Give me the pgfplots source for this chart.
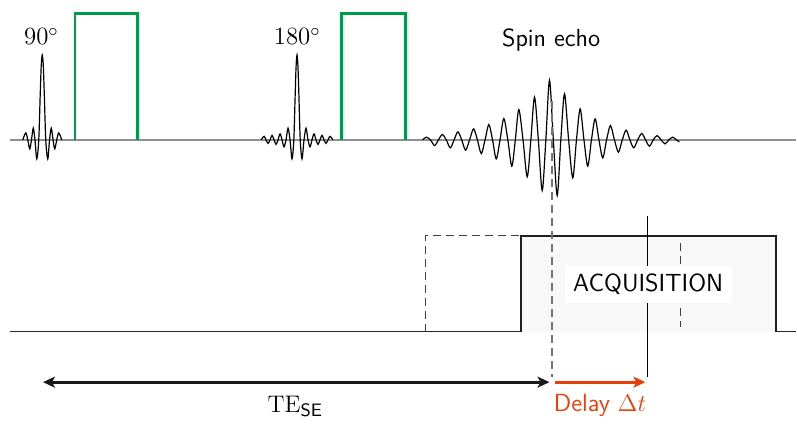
\documentclass[border=0pt]{standalone}
\usepackage{pgfplots}
\pgfplotsset{compat=1.18}
\usetikzlibrary{arrows.meta}
\definecolor{pgreen}{RGB}{0,155,72}
\definecolor{porange}{RGB}{232,64,8}
\definecolor{acqfill}{RGB}{248,248,248}
\begin{document}
\begin{tikzpicture}
\begin{axis}[x=0.5pt,y=0.5pt,xmin=0,xmax=797,ymin=0,ymax=417,y dir=reverse,
  hide axis,clip=false,anchor=south west,at={(0,0)}]
\addplot[draw=none] coordinates {(0,0)(797,417)};
% top baseline
\addplot[gray!75!black!70,line width=0.75pt] coordinates {(10,140)(797,140)};
% 90 pulse
\addplot[smooth,black,line width=0.6pt] coordinates {
(22.8,140)(25.8,133)(27.8,140)(29.8,149)(31.5,140)(33.3,128.3)(35,140)(36.8,159)(38.8,140)
(40.3,93)(41.3,65)(42.3,55)(43.3,65)(44.3,93)(45.8,140)(47.8,159)(49.6,140)(51.3,128.3)
(53.1,140)(54.8,149)(56.8,140)(58.8,133)(61.8,140)};
% 180 pulse
\addplot[smooth,black,line width=0.6pt] coordinates {
(261.3,140)(264.3,136.5)(266.3,140)(268.3,143.5)(270.3,140)(272.3,135.5)(274.3,140)(276.3,144.5)
(278.3,140)(280.3,134)(282.3,140)(284.3,147)(286.3,140)(288.3,128.3)(290.3,140)(292.3,159)
(294.1,140)(295.3,100)(296.3,68)(297.3,55)(298.3,68)(299.3,100)(300.5,140)(302.3,159)
(304.3,140)(306.3,128.3)(308.3,140)(310.3,147)(312.3,140)(314.3,134)(316.3,140)(318.3,144.5)
(320.3,140)(322.3,135.5)(324.3,140)(326.3,143.5)(328.3,140)(330.3,136.5)(333.3,140)};
% gradient pulses
\addplot[pgreen,line width=1.35pt] coordinates {(75,140)(75,13.3)(137.7,13.3)(137.7,140)};
\addplot[pgreen,line width=1.35pt] coordinates {(342,140)(342,13.3)(406,13.3)(406,140)};
% echo
\addplot[smooth,black,line width=0.6pt] coordinates {
(423,140)(426.7,137.3)(430.85,140)(435,145.7)(438.85,140)(442.7,134.7)(446.7,140)(450.7,148)
(454.5,140)(458.3,132)(462.15,140)(466,150.3)(470,140)(474,129)(477.85,140)(481.7,153.7)
(485.5,140)(489.3,124.7)(493,140)(496.7,159)(500.5,140)(504.3,118.7)(508.3,140)(512.3,166.3)
(515.8,140)(519.3,109.7)(523.5,140)(527.7,177)(531.35,140)(535,97.3)(538.85,140)(542.7,190.7)
(546.35,140)(550,80.3)(553.85,140)(557.7,195.7)(561.35,140)(565,94)(569.15,140)(573.3,178)
(577,140)(580.7,109)(584.5,140)(588.3,166.3)(592,140)(595.7,119)(599.5,140)(603.3,158)
(607.15,140)(611,125.7)(615,140)(619,152.3)(622.85,140)(626.7,130.3)(630.5,140)(634.3,148)
(638.3,140)(642.3,133.7)(646.15,140)(650,146.3)(653.85,140)(657.7,135.7)(661.7,140)(665.7,144)
(669.5,140)(673.3,137.3)(677,140)(680,142)};
% bottom baseline
\addplot[black!85,line width=0.5pt] coordinates {(10,332)(797,332)};
% dashed previous acquisition
\addplot[black!75,line width=0.6pt,dash pattern=on 4pt off 2.5pt] coordinates {(425.7,332)(425.7,236)(521.7,236)};
% acquisition box
\addplot[fill=acqfill,draw=none] coordinates {(521.7,332)(521.7,236)(776.7,236)(776.7,332)} -- cycle;
\addplot[black!88,line width=1pt] coordinates {(521.7,332)(521.7,236)(776.7,236)(776.7,332)};
\addplot[black!75,line width=0.6pt,dash pattern=on 4pt off 2.5pt] coordinates {(681,243)(681,327)};
\addplot[black,line width=0.6pt] coordinates {(648.3,216.5)(648.3,377)};
% echo center dashed
\addplot[black!55,line width=0.75pt,dash pattern=on 4pt off 2.5pt] coordinates {(552.7,101.5)(552.7,377)};
% labels
\node[anchor=base,font=\fontsize{12.4}{14}\selectfont] at (axis cs:41.5,45) {90$^\circ$};
\node[anchor=base,font=\fontsize{12.4}{14}\selectfont] at (axis cs:297.5,45) {180$^\circ$};
\node[anchor=base,font=\fontsize{12.4}{14}\sffamily] at (axis cs:551.7,46.7) {Spin echo};
\node[fill=white,inner xsep=4.2pt,minimum height=18.5pt,font=\fontsize{12.4}{14}\sffamily] at (axis cs:648.8,284.7) {ACQUISITION};
% arrows
\addplot[black!90,line width=1.6pt,{Stealth[length=6pt,width=5.5pt,inset=1.5pt]}-{Stealth[length=6pt,width=5.5pt,inset=1.5pt]}] coordinates {(43,382.5)(550,382.5)};
\addplot[porange,line width=1.6pt,-{Stealth[length=6pt,width=5.5pt,inset=1.5pt]}] coordinates {(556,382.5)(646,382.5)};
\node[anchor=base,font=\fontsize{12.4}{14}\selectfont] at (axis cs:295.5,412.5) {$\mathrm{TE}_{\mathsf{SE}}$};
\node[anchor=base,text=porange,font=\fontsize{12.4}{14}\sffamily] at (axis cs:600.5,411.7) {Delay $\Delta t$};
\end{axis}
\end{tikzpicture}
\end{document}
